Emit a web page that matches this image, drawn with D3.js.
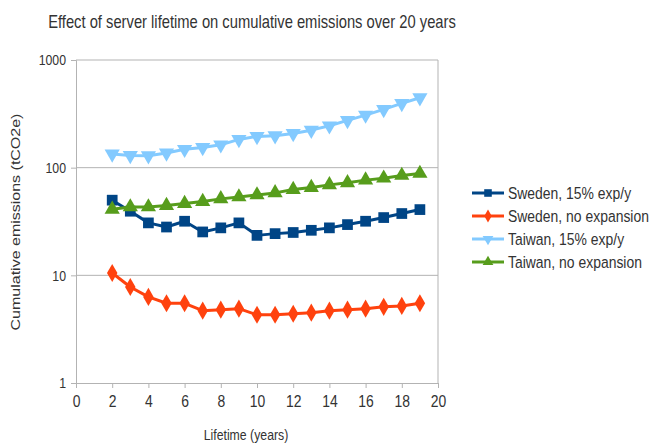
<!DOCTYPE html>
<html>
<head>
<meta charset="utf-8">
<script src="https://cdn.jsdelivr.net/npm/d3@7"></script>
<style>
  body { margin: 0; background: #fff; }
  text { font-family: "Liberation Sans", Arial, sans-serif; fill: #333; }
</style>
</head>
<body>
<svg id="chart" width="651" height="443"></svg>
<script>
// values
const years = [2, 3, 4, 5, 6, 7, 8, 9, 10, 11, 12, 13, 14, 15, 16, 17, 18, 19];
const swedenExp = [49.9, 39.4, 30.7, 28.1, 31.8, 25.3, 27.6, 30.7, 23.5, 24.4, 25.0, 26.2, 27.6, 29.6, 31.8, 34.4, 37.5, 40.8];
const swedenNo = [10.5, 7.8, 6.3, 5.5, 5.5, 4.7, 4.8, 4.9, 4.3, 4.3, 4.4, 4.5, 4.7, 4.8, 4.9, 5.1, 5.2, 5.5];
const taiwanExp = [134, 130, 129, 137, 148, 154, 163, 183, 195, 198, 208, 223, 245, 275, 308, 348, 395, 446];
const taiwanNo = [41, 43.2, 43.2, 44.5, 46.4, 48.5, 51.3, 53.5, 55.8, 58.3, 62.7, 65.4, 69.2, 72.3, 76.6, 79.9, 84.6, 88.3];
const seriesNames = ["Sweden, 15% exp/y", "Sweden, no expansion", "Taiwan, 15% exp/y", "Taiwan, no expansion"];
const xTicks = [0, 2, 4, 6, 8, 10, 12, 14, 16, 18, 20];
const yTicks = [1, 10, 100, 1000];

const svg = d3.select("#chart"),
  mLeft = 76, mRight = 438, mTop = 60, mBottom = 383,
  sx = 0.82; // the text in the picture is squeezed sideways

const x = d3.scaleLinear().domain([0, 20]).range([mLeft, mRight]);
const y = d3.scaleLog().domain([1, 1000]).range([mBottom, mTop]);

const series = [
  { name: seriesNames[0], values: swedenExp, color: "#004586", symbol: d3.symbolSquare, size: 115, rot: 0 },
  { name: seriesNames[1], values: swedenNo, color: "#ff420e", symbol: d3.symbolDiamond, size: 95, rot: 0 },
  { name: seriesNames[2], values: taiwanExp, color: "#83caff", symbol: d3.symbolTriangle, size: 100, rot: 180 },
  { name: seriesNames[3], values: taiwanNo, color: "#579d1c", symbol: d3.symbolTriangle, size: 100, rot: 0 }
];

function label(px, py, size, txt, extra) {
  return svg.append("text")
    .attr("transform", `translate(${px},${py}) scale(${sx},1)` + (extra || ""))
    .attr("text-anchor", "middle")
    .style("font-size", size + "px")
    .text(txt);
}

// title
label(252, 28, 18, "Effect of server lifetime on cumulative emissions over 20 years");

// grid lines
svg.append("g").selectAll("line").data(yTicks.slice(1)).join("line")
  .attr("x1", mLeft).attr("x2", mRight)
  .attr("y1", d => y(d)).attr("y2", d => y(d))
  .attr("stroke", "#b3b3b3");

// right border
svg.append("line")
  .attr("x1", mRight).attr("x2", mRight).attr("y1", mTop).attr("y2", mBottom)
  .attr("stroke", "#b3b3b3");

// axes
const yAxis = svg.append("g")
  .attr("transform", `translate(${mLeft},0)`)
  .call(d3.axisLeft(y).tickValues(yTicks).tickFormat(d3.format("d")).tickSize(5).tickPadding(4));
const xAxis = svg.append("g")
  .attr("transform", `translate(0,${mBottom})`)
  .call(d3.axisBottom(x).tickValues(xTicks).tickSize(5).tickPadding(7));
[xAxis, yAxis].forEach(a => {
  a.select(".domain").attr("stroke", "#b3b3b3");
  a.selectAll(".tick line").attr("stroke", "#b3b3b3");
  a.selectAll(".tick text").attr("fill", "#333").style("font-family", "inherit")
    .attr("transform", `scale(${sx},1)`);
});
yAxis.selectAll(".tick text").style("font-size", "15px").attr("x", -10 / sx);
xAxis.selectAll(".tick text").style("font-size", "17px");

// axis titles
label(246, 440, 15, "Lifetime (years)");
label(20, 222, 16, "Cumulative emissions (tCO2e)", " rotate(-90)");

// lines and markers
const line = d3.line().x((d, i) => x(years[i])).y(d => y(d));
series.forEach(s => {
  svg.append("path")
    .datum(s.values)
    .attr("d", line)
    .attr("fill", "none")
    .attr("stroke", s.color)
    .attr("stroke-width", 3)
    .attr("stroke-linejoin", "round");
  svg.append("g").selectAll("path").data(s.values).join("path")
    .attr("d", d3.symbol(s.symbol, s.size))
    .attr("transform", (d, i) => `translate(${x(years[i])},${y(d)}) rotate(${s.rot})`)
    .attr("fill", s.color);
});

// legend
const legend = svg.append("g").attr("transform", "translate(472,193)");
series.forEach((s, i) => {
  const g = legend.append("g").attr("transform", `translate(0,${i * 23})`);
  g.append("line").attr("x1", 0).attr("x2", 32).attr("stroke", s.color).attr("stroke-width", 3);
  g.append("path").attr("d", d3.symbol(s.symbol, s.size * 0.5))
    .attr("transform", `translate(16,0) rotate(${s.rot})`).attr("fill", s.color);
  g.append("text").attr("transform", `translate(36,6) scale(${sx},1)`)
    .style("font-size", "17px").text(s.name);
});
</script>
</body>
</html>
